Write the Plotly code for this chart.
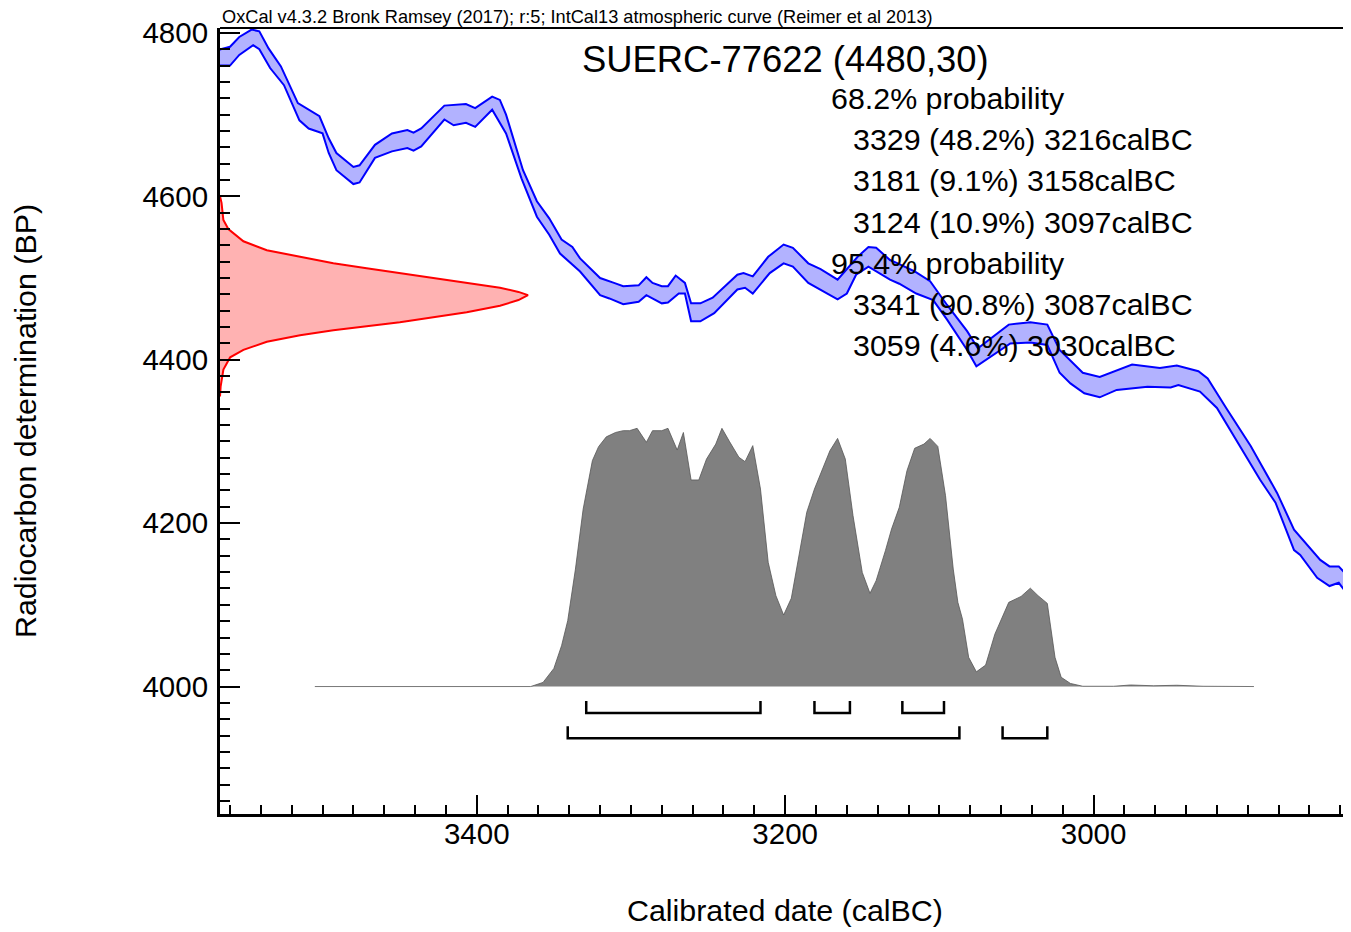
import plotly.graph_objects as go

# ---------------- data ----------------
# IntCal13 calibration curve, upper and lower 1-sigma edges (calBC, BP)
curve_upper_year = [3570, 3566, 3560, 3554, 3546, 3541, 3535, 3527, 3516, 3502, 3496, 3491, 3480, 3476,
                    3466, 3455, 3445, 3441, 3436, 3421, 3407, 3401, 3390, 3385, 3381, 3370, 3361, 3353,
                    3345, 3338, 3333, 3320, 3311, 3305, 3295, 3290, 3286, 3280, 3276, 3271, 3265, 3261,
                    3255, 3247, 3231, 3227, 3221, 3211, 3201, 3195, 3185, 3177, 3166, 3153, 3146, 3141,
                    3132, 3127, 3116, 3106, 3095, 3082, 3075, 3055, 3041, 3030, 3022, 3007, 2996, 2975,
                    2957, 2946, 2932, 2926, 2914, 2898, 2892, 2881, 2870, 2860, 2853, 2847, 2841, 2835, 2830]
curve_upper_bp = [4776, 4780, 4783, 4795, 4804, 4802, 4781, 4759, 4714, 4698, 4671, 4653, 4636, 4638,
                  4663, 4677, 4681, 4678, 4683, 4711, 4713, 4708, 4722, 4718, 4700, 4632, 4594, 4573,
                  4547, 4538, 4524, 4500, 4494, 4490, 4491, 4501, 4494, 4490, 4490, 4503, 4494, 4469,
                  4469, 4476, 4504, 4506, 4502, 4526, 4541, 4537, 4518, 4511, 4498, 4526, 4538, 4537,
                  4522, 4518, 4508, 4496, 4467, 4435, 4414, 4443, 4446, 4443, 4412, 4384, 4379, 4394,
                  4390, 4393, 4386, 4377, 4341, 4294, 4274, 4237, 4192, 4171, 4155, 4147, 4147, 4135, 4128]
curve_lower_year = [3570, 3566, 3560, 3554, 3545, 3541, 3534, 3525, 3515, 3509, 3500, 3496, 3491, 3480,
                    3476, 3466, 3455, 3445, 3441, 3436, 3421, 3415, 3407, 3401, 3390, 3381, 3371, 3361,
                    3353, 3346, 3333, 3320, 3314, 3305, 3295, 3290, 3280, 3276, 3269, 3265, 3261, 3255,
                    3246, 3231, 3226, 3221, 3210, 3201, 3195, 3185, 3177, 3166, 3160, 3154, 3146, 3132,
                    3126, 3115, 3104, 3095, 3082, 3076, 3054, 3041, 3030, 3022, 3015, 3006, 2996, 2985,
                    2965, 2950, 2945, 2931, 2920, 2909, 2892, 2882, 2870, 2866, 2855, 2847, 2841, 2835, 2830]
curve_lower_bp = [4760, 4760, 4760, 4773, 4785, 4780, 4757, 4736, 4693, 4683, 4677, 4653, 4632, 4615,
                  4617, 4647, 4655, 4659, 4656, 4661, 4694, 4687, 4690, 4685, 4706, 4677, 4622, 4575,
                  4553, 4530, 4508, 4479, 4475, 4468, 4471, 4479, 4469, 4470, 4481, 4481, 4447, 4447,
                  4457, 4486, 4488, 4481, 4506, 4518, 4514, 4494, 4486, 4474, 4481, 4504, 4514, 4498,
                  4493, 4481, 4473, 4449, 4412, 4392, 4420, 4421, 4418, 4384, 4371, 4359, 4354, 4363,
                  4367, 4366, 4369, 4361, 4341, 4306, 4253, 4225, 4167, 4161, 4133, 4123, 4127, 4112, 4105]

# Radiocarbon measurement 4480 +/- 30 BP (relative density, peak = 1)
c14_bp = [4600, 4592, 4571, 4560, 4545, 4534, 4526, 4518, 4512, 4506, 4500, 4494, 4488, 4483, 4479,
          4473, 4466, 4458, 4452, 4446, 4441, 4436, 4430, 4422, 4412, 4403, 4388, 4367, 4355]
c14_density = [0.0, 0.005, 0.011, 0.027, 0.076, 0.152, 0.26, 0.368, 0.476, 0.584, 0.693, 0.801, 0.909,
               0.969, 1.0, 0.969, 0.909, 0.801, 0.693, 0.584, 0.476, 0.368, 0.26, 0.152, 0.076, 0.033,
               0.011, 0.002, 0.0]

# Calibrated date probability (relative density, peak = 1)
cal_year = [3505, 3365, 3357, 3350, 3345, 3341, 3336, 3331, 3325, 3321, 3316, 3310, 3305, 3301, 3296,
            3290, 3286, 3280, 3276, 3270, 3266, 3261, 3256, 3251, 3245, 3241, 3236, 3230, 3226, 3221,
            3216, 3211, 3206, 3201, 3196, 3190, 3186, 3181, 3171, 3166, 3161, 3156, 3150, 3145, 3141,
            3135, 3131, 3126, 3121, 3116, 3110, 3106, 3101, 3096, 3091, 3088, 3085, 3081, 3076, 3070,
            3064, 3055, 3047, 3041, 3036, 3030, 3025, 3021, 3015, 3007, 2998, 2987, 2976, 2961, 2946,
            2929, 2896]
cal_density = [0, 0, 0.016, 0.070, 0.158, 0.255, 0.455, 0.687, 0.875, 0.929, 0.967, 0.984, 0.991, 0.991,
               1.0, 0.946, 0.991, 0.991, 1.0, 0.916, 0.984, 0.800, 0.800, 0.881, 0.939, 1.0, 0.948, 0.888,
               0.871, 0.933, 0.765, 0.481, 0.352, 0.277, 0.342, 0.533, 0.675, 0.765, 0.913, 0.961, 0.881,
               0.662, 0.442, 0.361, 0.410, 0.526, 0.610, 0.694, 0.836, 0.923, 0.939, 0.961, 0.930, 0.739,
               0.455, 0.326, 0.261, 0.113, 0.057, 0.083, 0.203, 0.326, 0.349, 0.381, 0.352, 0.322, 0.113,
               0.036, 0.012, 0.001, 0, 0.001, 0.006, 0.003, 0.005, 0.001, 0]

# Highest posterior density ranges
range68_from = [3329, 3181, 3124]
range68_to = [3216, 3158, 3097]
range68_pct = [48.2, 9.1, 10.9]
range95_from = [3341, 3059]
range95_to = [3087, 3030]
range95_pct = [90.8, 4.6]

sample_name = "SUERC-77622"
sample_bp, sample_err = 4480, 30
header_text = "OxCal v4.3.2 Bronk Ramsey (2017); r:5; IntCal13 atmospheric curve (Reimer et al 2013)"

# ---------------- layout constants ----------------
OFF = 8                                   # page body margin of the html page
W, H = 1351 - OFF, 932 - OFF
L, R, T, B = 220, 1348, 28, 814           # plot area in window pixels
PW, PH = R - L, B - T
X_RANGE = [3566.5, 2835]
Y_RANGE = [3844, 4806]
FONT = "Liberation Sans"
FS = 30.4

# secondary axes: calibrated density baseline sits at 4000 BP, peak = 258 px
DENS_PX = 258.2
base_px_from_bottom = (4000 - Y_RANGE[0]) / (Y_RANGE[1] - Y_RANGE[0]) * PH
Y2_RANGE = [-base_px_from_bottom / DENS_PX, (PH - base_px_from_bottom) / DENS_PX]
# measurement density: peak 308 px from left axis
X2_RANGE = [0, PW / 308.0]


def px_x(px):
    return (px - L) / PW


def px_y(py):
    return (B - py) / PH


fig = go.Figure()

# calibration curve band
band_x = curve_upper_year + curve_lower_year[::-1]
band_y = curve_upper_bp + curve_lower_bp[::-1]
fig.add_trace(go.Scatter(x=band_x, y=band_y, mode="lines", fill="toself",
                         fillcolor="rgba(0,0,255,0.3)", line=dict(color="#0000ff", width=2),
                         hoverinfo="skip", showlegend=False))

# measurement distribution on the y axis
fig.add_trace(go.Scatter(x=c14_density, y=c14_bp, xaxis="x2", yaxis="y", mode="lines",
                         fill="tozerox", fillcolor="rgba(255,0,0,0.3)",
                         line=dict(color="#ff0000", width=2), showlegend=False))

# calibrated distribution
fig.add_trace(go.Scatter(x=cal_year, y=cal_density, xaxis="x", yaxis="y2", mode="lines",
                         fill="tozeroy", fillcolor="#808080",
                         line=dict(color="#555555", width=0.8), showlegend=False))

# range brackets
def bracket_trace(froms, tos, level, tick):
    xs, ys = [], []
    for a, b in zip(froms, tos):
        xs += [a, a, b, b, None]
        ys += [level + tick, level, level, level + tick, None]
    return go.Scatter(x=xs, y=ys, xaxis="x", yaxis="y2", mode="lines",
                      line=dict(color="black", width=2.5), showlegend=False)

lvl68 = -(714 - 687.5) / DENS_PX
lvl95 = -(739.3 - 687.5) / DENS_PX
tick_h = 12 / DENS_PX
fig.add_trace(bracket_trace(range68_from, range68_to, lvl68, tick_h))
fig.add_trace(bracket_trace(range95_from, range95_to, lvl95, tick_h))

# ---------------- text ----------------
ann = []
ann.append(dict(text=header_text, x=0, y=px_y(17), xref="paper", yref="paper",
                xanchor="left", yanchor="middle", showarrow=False,
                font=dict(family=FONT, size=18.2, color="black")))
ann.append(dict(text=f"{sample_name} ({sample_bp},{sample_err})", x=px_x(785), y=px_y(59),
                xref="paper", yref="paper", xanchor="center", yanchor="middle", showarrow=False,
                font=dict(family=FONT, size=36.4, color="black")))

lines = [("68.2% probability", 829)]
for a, b, p in zip(range68_from, range68_to, range68_pct):
    lines.append((f"{a} ({p}%) {b}calBC", 851))
lines.append(("95.4% probability", 829))
for a, b, p in zip(range95_from, range95_to, range95_pct):
    lines.append((f"{a} ({p}%) {b}calBC", 851))
for i, (t, xl) in enumerate(lines):
    ann.append(dict(text=t, x=px_x(xl), y=px_y(98 + 41.2 * i), xref="paper", yref="paper",
                    xanchor="left", yanchor="middle", showarrow=False,
                    font=dict(family=FONT, size=FS, color="black")))

ann.append(dict(text="Calibrated date (calBC)", x=px_x(785), y=px_y(910), xref="paper", yref="paper",
                xanchor="center", yanchor="middle", showarrow=False,
                font=dict(family=FONT, size=FS, color="black")))
ann.append(dict(text="Radiocarbon determination (BP)", x=px_x(25), y=px_y(421), xref="paper",
                yref="paper", xanchor="center", yanchor="middle", textangle=-90, showarrow=False,
                font=dict(family=FONT, size=FS, color="black")))

axis_common = dict(showgrid=False, zeroline=False, showline=True, linewidth=3, linecolor="black",
                   ticks="inside", tickwidth=2, tickcolor="black",
                   tickfont=dict(family=FONT, size=29.5, color="black"))

fig.update_layout(
    width=W, height=H, autosize=False,
    margin=dict(l=L - OFF, r=W + OFF - R, t=T - OFF, b=H + OFF - B, pad=0),
    paper_bgcolor="white", plot_bgcolor="white",
    showlegend=False,
    xaxis=dict(range=X_RANGE, tickmode="linear", tick0=3000, dtick=200, ticklen=19,
               ticklabelstandoff=-8,
               minor=dict(ticks="inside", ticklen=9, tickwidth=1.5, tickcolor="black",
                          tickmode="linear", tick0=3000, dtick=20, showgrid=False),
               **axis_common),
    yaxis=dict(range=Y_RANGE, tickmode="linear", tick0=4000, dtick=200, ticklen=20,
               ticklabelstandoff=3,
               minor=dict(ticks="inside", ticklen=10, tickwidth=1.5, tickcolor="black",
                          tickmode="linear", tick0=4000, dtick=20, showgrid=False),
               **axis_common),
    xaxis2=dict(range=X2_RANGE, overlaying="x", anchor="y", visible=False, showgrid=False,
                zeroline=False),
    yaxis2=dict(range=Y2_RANGE, overlaying="y", anchor="x", visible=False, showgrid=False,
                zeroline=False),
    annotations=ann,
    shapes=[
        dict(type="line", xref="paper", yref="paper", x0=0, x1=1, y0=1, y1=1,
             line=dict(color="black", width=2)),
        dict(type="line", xref="paper", yref="paper", x0=1, x1=1, y0=0, y1=1,
             line=dict(color="black", width=2)),
    ],
)

fig.write_html("out.html")
